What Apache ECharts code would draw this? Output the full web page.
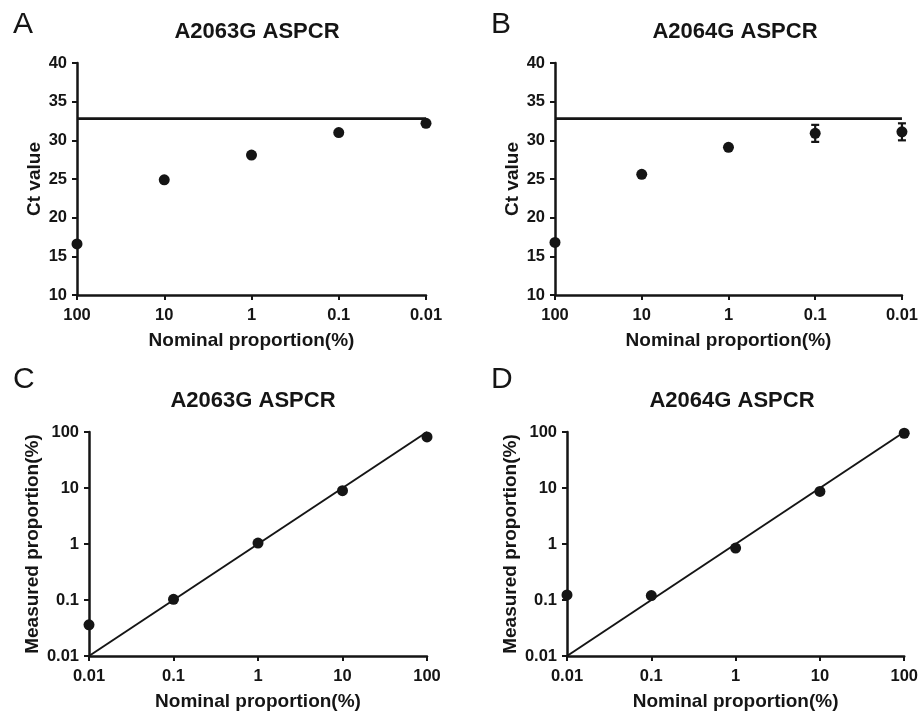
<!DOCTYPE html>
<html>
<head>
<meta charset="utf-8">
<script src="https://cdn.jsdelivr.net/npm/echarts@6/dist/echarts.min.js"></script>
<style>
  html, body { margin: 0; padding: 0; background: #fff; }
  #main { width: 921px; height: 712px; }
</style>
</head>
<body>
<div id="main"></div>
<script>
// top panels: Ct value vs nominal proportion
var ctNominal = [100, 10, 1, 0.1, 0.01];
var ctA2063 = [16.6, 24.9, 28.1, 31.0, 32.2];
var ctA2064 = [16.8, 25.6, 29.1, 30.9, 31.1];
var ctA2064Err = [0, 0, 0, 1.1, 1.1];
var cutoffA2063 = 32.8;
var cutoffA2064 = 32.8;

// bottom panels: measured vs nominal proportion
var measNominal = [0.01, 0.1, 1, 10, 100];
var measA2063 = [0.036, 0.103, 1.04, 8.95, 81.7];
var measA2064 = [0.123, 0.12, 0.845, 8.7, 95];

var panelLetters = ['A', 'B', 'C', 'D'];
var panelTitles = ['A2063G ASPCR', 'A2064G ASPCR', 'A2063G ASPCR', 'A2064G ASPCR'];

var ink = '#151515';
var font = 'Liberation Sans, Arial, sans-serif';

function pairs(xs, ys) {
  return xs.map(function (x, i) { return [x, ys[i]]; });
}
function fmtNum(v) {
  return String(+(+v).toPrecision(2));
}

var grids = [
  { left: 77, top: 63, width: 349, height: 232 },
  { left: 555, top: 63, width: 349, height: 232 },
  { left: 89, top: 432, width: 338, height: 224 },
  { left: 567, top: 432, width: 339, height: 224 }
];

function tickLabel() {
  return { color: ink, fontFamily: font, fontWeight: 'bold', fontSize: 16.5, margin: 10, formatter: fmtNum };
}

function baseAxis(extra) {
  var ax = {
    axisLine: { show: true, onZero: false, lineStyle: { color: ink, width: 2.5 } },
    axisTick: { show: true, inside: false, length: 5, lineStyle: { color: ink, width: 2 } },
    axisLabel: tickLabel(),
    splitLine: { show: false },
    nameLocation: 'middle',
    nameTextStyle: { color: ink, fontFamily: font, fontWeight: 'bold', fontSize: 19 }
  };
  for (var k in extra) ax[k] = extra[k];
  return ax;
}

var xAxes = [], yAxes = [];
for (var g = 0; g < 4; g++) {
  var isTop = g < 2;
  var xLab = tickLabel();
  xLab.margin = 12;
  xAxes.push(baseAxis({
    gridIndex: g, type: 'log', logBase: 10, min: 0.01, max: 100,
    inverse: isTop, name: 'Nominal proportion(%)', nameGap: 36,
    axisLabel: xLab
  }));
  if (isTop) {
    yAxes.push(baseAxis({
      gridIndex: g, type: 'value', min: 10, max: 40, interval: 5,
      name: 'Ct value', nameGap: 33
    }));
  } else {
    yAxes.push(baseAxis({
      gridIndex: g, type: 'log', logBase: 10, min: 0.01, max: 100,
      name: 'Measured proportion(%)', nameGap: 47
    }));
  }
}

var titleCenters = [[252, 16], [730, 16], [248, 385], [727, 385]];
var letterPos = [[8, 5], [486, 5], [8, 360], [486, 360]];
var titles = [];
for (var t = 0; t < 4; t++) {
  titles.push({
    text: panelTitles[t], left: titleCenters[t][0], top: titleCenters[t][1], textAlign: 'center',
    textStyle: { color: ink, fontFamily: font, fontWeight: 'bold', fontSize: 22 }
  });
  titles.push({
    text: panelLetters[t], left: letterPos[t][0], top: letterPos[t][1],
    textStyle: { color: ink, fontFamily: font, fontWeight: 'normal', fontSize: 30 }
  });
}

function dots(idx, data) {
  return {
    type: 'scatter', xAxisIndex: idx, yAxisIndex: idx, data: data,
    symbol: 'circle', symbolSize: 11, clip: false, z: 5,
    itemStyle: { color: ink, opacity: 1 }
  };
}
function segment(idx, data, w) {
  return {
    type: 'line', xAxisIndex: idx, yAxisIndex: idx, data: data,
    symbol: 'none', clip: false, silent: true,
    lineStyle: { color: ink, width: w }
  };
}

var errData = [];
ctNominal.forEach(function (x, i) {
  if (ctA2064Err[i] > 0) errData.push([x, ctA2064[i] - ctA2064Err[i], ctA2064[i] + ctA2064Err[i]]);
});

var lastCt = ctNominal.length - 1;
var lastMeas = measNominal.length - 1;
var series = [
  segment(0, [[ctNominal[0], cutoffA2063], [ctNominal[lastCt], cutoffA2063]], 2.8),
  dots(0, pairs(ctNominal, ctA2063)),
  segment(1, [[ctNominal[0], cutoffA2064], [ctNominal[lastCt], cutoffA2064]], 2.8),
  dots(1, pairs(ctNominal, ctA2064)),
  {
    type: 'custom', xAxisIndex: 1, yAxisIndex: 1, data: errData, clip: false, z: 4,
    renderItem: function (params, api) {
      var lo = api.coord([api.value(0), api.value(1)]);
      var hi = api.coord([api.value(0), api.value(2)]);
      var cap = 4;
      var st = { stroke: ink, lineWidth: 2.2 };
      return {
        type: 'group',
        children: [
          { type: 'line', shape: { x1: lo[0], y1: lo[1], x2: hi[0], y2: hi[1] }, style: st },
          { type: 'line', shape: { x1: lo[0] - cap, y1: lo[1], x2: lo[0] + cap, y2: lo[1] }, style: st },
          { type: 'line', shape: { x1: hi[0] - cap, y1: hi[1], x2: hi[0] + cap, y2: hi[1] }, style: st }
        ]
      };
    }
  },
  segment(2, [[measNominal[0], measNominal[0]], [measNominal[lastMeas], measNominal[lastMeas]]], 2),
  dots(2, pairs(measNominal, measA2063)),
  segment(3, [[measNominal[0], measNominal[0]], [measNominal[lastMeas], measNominal[lastMeas]]], 2),
  dots(3, pairs(measNominal, measA2064))
];

var chart = echarts.init(document.getElementById('main'));
chart.setOption({
  animation: false,
  backgroundColor: '#fff',
  title: titles,
  grid: grids,
  xAxis: xAxes,
  yAxis: yAxes,
  series: series
});
</script>
</body>
</html>
